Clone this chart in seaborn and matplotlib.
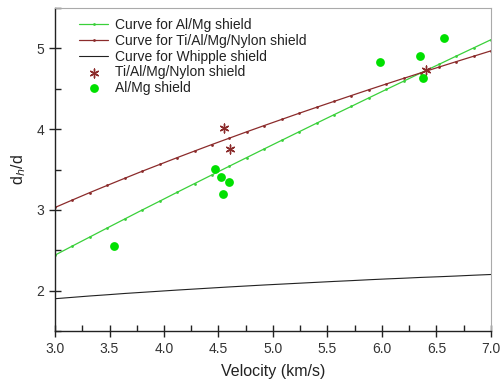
import matplotlib
matplotlib.use("Agg")
import matplotlib.pyplot as plt
import seaborn as sns
import pandas as pd
from matplotlib.ticker import MultipleLocator

# ---- data ----
velocity = [3.00, 3.16, 3.32, 3.48, 3.64, 3.80, 3.96, 4.12, 4.28, 4.44, 4.60, 4.76, 4.92,
            5.08, 5.24, 5.40, 5.56, 5.72, 5.88, 6.04, 6.20, 6.36, 6.52, 6.68, 6.84, 7.00]
curve_almg = [2.440, 2.553, 2.665, 2.777, 2.888, 2.999, 3.108, 3.218, 3.326, 3.434, 3.542,
              3.649, 3.756, 3.862, 3.968, 4.074, 4.179, 4.283, 4.388, 4.492, 4.595, 4.699,
              4.801, 4.904, 5.006, 5.108]
curve_tinylon = [3.030, 3.123, 3.215, 3.304, 3.392, 3.479, 3.563, 3.647, 3.729, 3.810, 3.889,
                 3.968, 4.045, 4.121, 4.197, 4.271, 4.344, 4.417, 4.489, 4.560, 4.630, 4.699,
                 4.768, 4.836, 4.903, 4.970]
curve_whipple = [1.900, 1.917, 1.934, 1.949, 1.965, 1.979, 1.993, 2.007, 2.020, 2.033, 2.046,
                 2.058, 2.070, 2.081, 2.092, 2.103, 2.114, 2.124, 2.135, 2.145, 2.154, 2.164,
                 2.172, 2.181, 2.191, 2.200]

tinylon_v = [4.55, 4.61, 6.40]
tinylon_d = [4.01, 3.76, 4.73]

almg_v = [3.54, 4.47, 4.52, 4.60, 4.54, 5.98, 6.35, 6.38, 6.57]
almg_d = [2.55, 3.51, 3.41, 3.34, 3.20, 4.83, 4.91, 4.63, 5.13]

xticks = [3.0, 3.5, 4.0, 4.5, 5.0, 5.5, 6.0, 6.5, 7.0]
yticks = [2, 3, 4, 5]

sns.set_theme(style="white")
plt.rcParams['font.family'] = ['Liberation Sans', 'DejaVu Sans']

fig = plt.figure(figsize=(5.02, 3.84), dpi=100)
ax = fig.add_axes([0.1096, 0.138, 0.8684, 0.841])

curves = pd.DataFrame({"v": velocity, "almg": curve_almg, "ti": curve_tinylon, "wh": curve_whipple})

green_line = "#3ad03a"
red_line = "#8b2b2b"
dot_green = "#00e000"

sns.lineplot(data=curves, x="v", y="almg", ax=ax, color=green_line, lw=0.9,
             marker="o", markersize=2, markeredgewidth=0, label="Curve for Al/Mg shield")
sns.lineplot(data=curves, x="v", y="ti", ax=ax, color=red_line, lw=0.9,
             marker="o", markersize=2, markeredgewidth=0, label="Curve for Ti/Al/Mg/Nylon shield")
sns.lineplot(data=curves, x="v", y="wh", ax=ax, color="#222222", lw=0.8,
             label="Curve for Whipple shield")
sns.scatterplot(x=tinylon_v, y=tinylon_d, ax=ax, marker=(6, 2, 0), s=40, color=red_line,
                linewidth=1.0, edgecolor=red_line, label="Ti/Al/Mg/Nylon shield", zorder=5)
sns.scatterplot(x=almg_v, y=almg_d, ax=ax, marker="o", s=40, color=dot_green,
                edgecolor=dot_green, linewidth=0, label="Al/Mg shield", zorder=5)

ax.set_xlim(3.0, 7.0)
ax.set_ylim(1.5, 5.5)
ax.set_xticks(xticks)
ax.set_xticklabels([f"{t:.1f}" for t in xticks])
ax.set_yticks(yticks)
ax.set_yticklabels([str(t) for t in yticks])
ax.xaxis.set_minor_locator(MultipleLocator(0.25))
ax.yaxis.set_minor_locator(MultipleLocator(0.5))
ax.tick_params(which="major", direction="inout", length=8, width=1.0, color="#222222",
               labelsize=10, labelcolor="#333333", bottom=True, left=True)
ax.tick_params(which="minor", direction="in", length=4, width=1.0, color="#222222",
               bottom=True, left=True)
ax.tick_params(axis="x", pad=4)

for s in ["left", "bottom"]:
    ax.spines[s].set_color("#222222")
    ax.spines[s].set_linewidth(1.0)
for s in ["top", "right"]:
    ax.spines[s].set_color("#aaaaaa")
    ax.spines[s].set_linewidth(0.8)

ax.set_xlabel("Velocity (km/s)", fontsize=11.5, color="#222222", labelpad=6)
ax.set_ylabel("d$_h$/d", fontsize=11.5, color="#222222", labelpad=6)

leg = ax.legend(loc="upper left", bbox_to_anchor=(0.036, 0.994), frameon=False,
                fontsize=10, handlelength=2.1, handletextpad=0.5, labelspacing=0.12,
                borderaxespad=0.2)
for t in leg.get_texts():
    t.set_color("#222222")

fig.savefig("out.png", dpi=100)
